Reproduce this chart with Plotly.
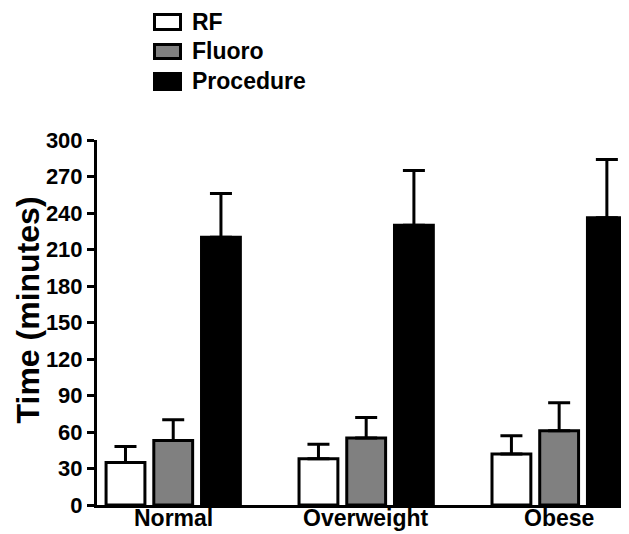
import plotly.graph_objects as go

categories = ["Normal", "Overweight", "Obese"]
series_names = ["RF", "Fluoro", "Procedure"]
rf_values = [35, 38, 42]
rf_err = [13, 12, 15]
fluoro_values = [53, 55, 61]
fluoro_err = [17, 17, 23]
procedure_values = [220, 230, 236]
procedure_err = [36, 45, 48]
y_ticks = [0, 30, 60, 90, 120, 150, 180, 210, 240, 270, 300]
y_title = "Time (minutes)"

fills = ["#ffffff", "#808080", "#000000"]
values = [rf_values, fluoro_values, procedure_values]
errors = [rf_err, fluoro_err, procedure_err]

FONT = "Liberation Sans, Arial, sans-serif"

fig = go.Figure()
for name, vals, errs, fill in zip(series_names, values, errors, fills):
    fig.add_trace(go.Bar(
        x=categories, y=vals, name=name,
        marker=dict(color=fill, line=dict(color="black", width=3)),
        error_y=dict(type="data", array=errs, arrayminus=[0] * len(errs),
                     symmetric=False, color="black", thickness=3, width=11),
        showlegend=False,
    ))

# custom legend (boxes + labels)
box_rows = [(125.5, 110.5), (95.5, 81.5), (66.5, 50.5)]
label_y = [1.3233, 1.2438, 1.1616]
for (ytop, ybot), fill, name, ly in zip(box_rows, fills, series_names, label_y):
    fig.add_shape(type="rect", xref="paper", yref="paper",
                  xsizemode="pixel", ysizemode="pixel", xanchor=0, yanchor=1,
                  x0=57.5, x1=83.5, y0=ybot, y1=ytop,
                  fillcolor=fill, line=dict(color="black", width=3))
    fig.add_annotation(x=0.1748, y=ly, xref="paper", yref="paper",
                       text=name, showarrow=False, xanchor="left", yanchor="middle",
                       font=dict(family=FONT, size=23, color="black", weight="bold"))

# category labels under the axis, placed on the category scale
for cat in categories:
    fig.add_annotation(x=cat, y=0, xref="x", yref="paper", text=cat,
                       showarrow=False, xanchor="center", yanchor="middle",
                       yshift=-13,
                       font=dict(family=FONT, size=23, color="black", weight="bold"))

# y-axis title placed as rotated text
fig.add_annotation(x=-0.129, y=0.534, xref="paper", yref="paper", text=y_title,
                   textangle=-90, showarrow=False, xanchor="center", yanchor="middle",
                   font=dict(family=FONT, size=32, color="black", weight="bold"))

# the page body adds an 8px margin, so the figure is 8px smaller than the window
fig.update_layout(
    width=621, height=526,
    margin=dict(l=89, r=0, t=132, b=29),
    paper_bgcolor="white", plot_bgcolor="white",
    barmode="group", bargap=0.258, bargroupgap=0.186,
    font=dict(family=FONT, color="black", weight="bold"),
    xaxis=dict(range=[-0.395, 2.362], showline=True, linecolor="black", linewidth=3,
               ticks="", showgrid=False, zeroline=False, showticklabels=False),
    yaxis=dict(range=[0, 300], tickvals=y_ticks, showline=True, linecolor="black",
               linewidth=3, ticks="outside", ticklen=7, tickwidth=3, tickcolor="black",
               showgrid=False, zeroline=False,
               tickfont=dict(family=FONT, size=22, color="black", weight="bold")),
)

fig.write_html("out.html")
